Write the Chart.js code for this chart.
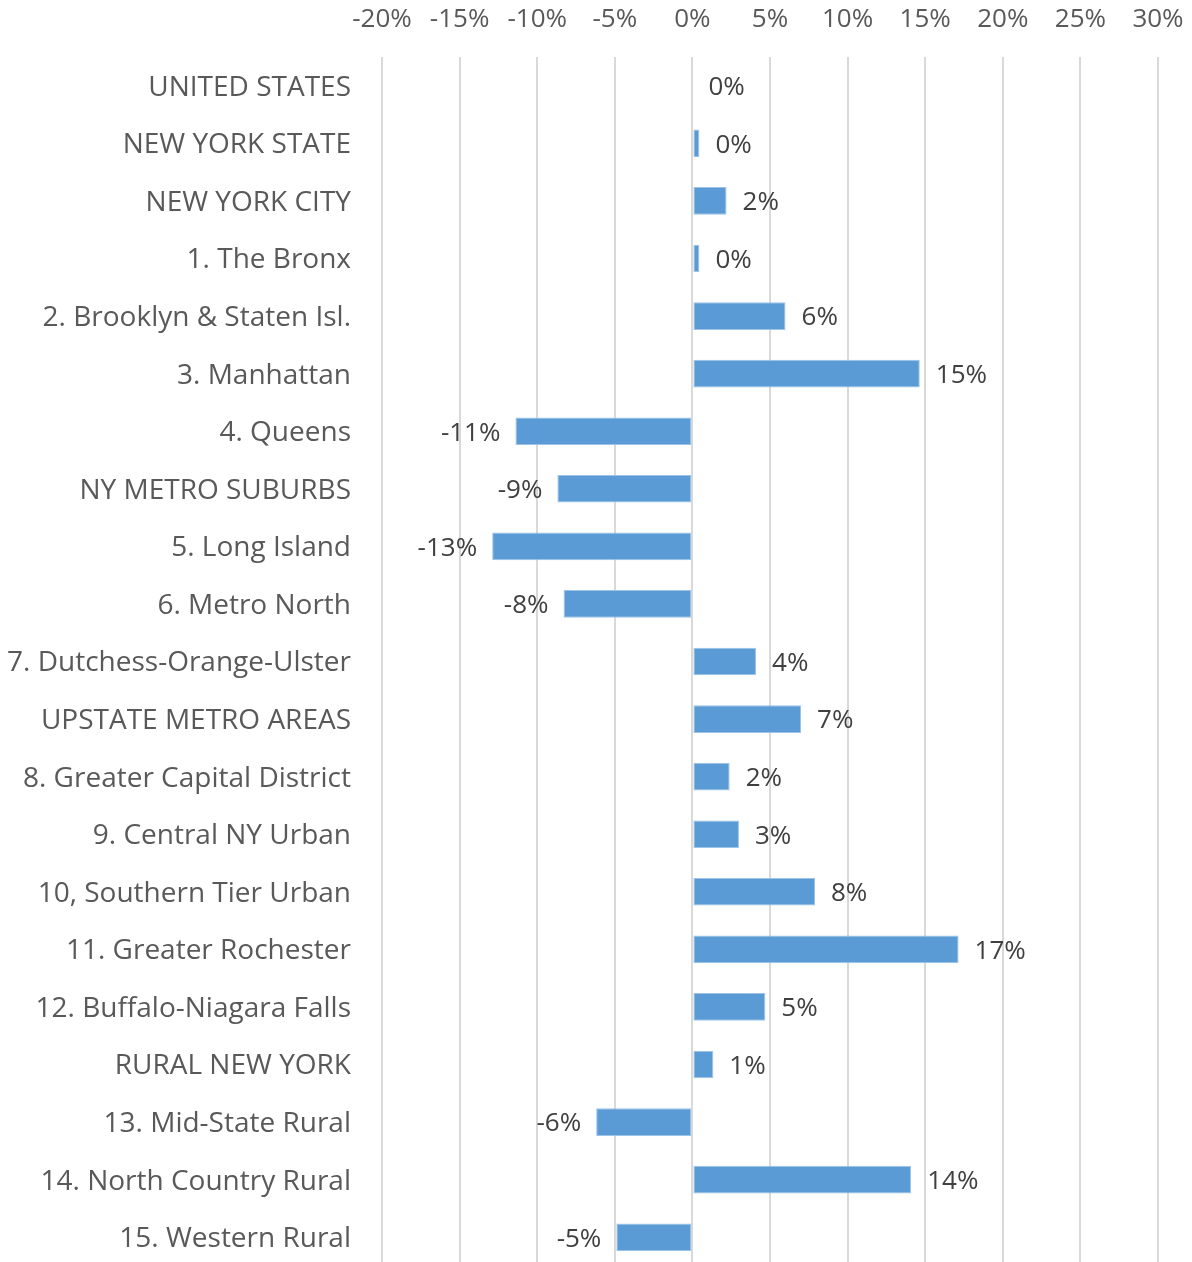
<!DOCTYPE html>
<html lang="en">
<head>
<meta charset="UTF-8">
<title>Change by region</title>
<script src="https://cdn.jsdelivr.net/npm/chart.js"></script>
<style>
  html, body { margin: 0; padding: 0; background: #fff; overflow: hidden; }
  #wrap { position: relative; width: 1192px; height: 1266px; }
</style>
</head>
<body>
<div id="wrap"><canvas id="myChart"></canvas></div>
<script>
    var regions = ['UNITED STATES', 'NEW YORK STATE', 'NEW YORK CITY', '1. The Bronx', '2. Brooklyn & Staten Isl.',
                   '3. Manhattan', '4. Queens', 'NY METRO SUBURBS', '5. Long Island', '6. Metro North',
                   '7. Dutchess-Orange-Ulster', 'UPSTATE METRO AREAS', '8. Greater Capital District', '9. Central NY Urban',
                   '10, Southern Tier Urban', '11. Greater Rochester', '12. Buffalo-Niagara Falls', 'RURAL NEW YORK',
                   '13. Mid-State Rural', '14. North Country Rural', '15. Western Rural'];
    var change = [0.0, 0.45, 2.2, 0.45, 6.0, 14.65, -11.4, -8.7, -12.9, -8.3,
                  4.1, 7.0, 2.4, 3.0, 7.9, 17.15, 4.7, 1.35, -6.2, 14.1, -4.9];
    var tick_min = -20, tick_max = 30, tick_step = 5;

    var font_family = "'Open Sans', 'Noto Sans', sans-serif";

    // value labels next to the bar ends
    var barLabels = {
        id: 'barLabels',
        afterDatasetsDraw: function(chart) {
            var ctx = chart.ctx;
            var meta = chart.getDatasetMeta(0);
            ctx.save();
            ctx.font = '26px ' + font_family;
            ctx.fillStyle = '#404040';
            ctx.textBaseline = 'middle';
            meta.data.forEach(function(bar, i) {
                var v = change[i];
                var txt = Math.round(v) + '%';
                if (v >= 0) {
                    ctx.textAlign = 'left';
                    ctx.fillText(txt, bar.x + 16, bar.y + 2);
                } else {
                    ctx.textAlign = 'right';
                    ctx.fillText(txt, bar.x - 15, bar.y + 2);
                }
            });
            ctx.restore();
        }
    };

    var chart = new Chart(document.getElementById('myChart'), {
        type: 'bar',
        data: {
            labels: regions,
            datasets: [{
                data: change,
                backgroundColor: '#5b9bd5',
                borderColor: '#9dc3e6',
                borderWidth: 1,
                borderSkipped: false,
                barPercentage: 0.48,
                categoryPercentage: 1.0
            }]
        },
        options: {
            indexAxis: 'y',
            responsive: true,
            maintainAspectRatio: false,
            animation: false,
            layout: { padding: { left: 0, right: 34, top: 0, bottom: 0 } },
            plugins: {
                legend: { display: false },
                tooltip: { enabled: false }
            },
            scales: {
                x: {
                    position: 'top',
                    min: tick_min,
                    max: tick_max,
                    border: { display: false },
                    grid: { color: '#d9d9d9', lineWidth: 2, drawTicks: false },
                    ticks: {
                        stepSize: tick_step,
                        color: '#595959',
                        padding: 22,
                        font: { size: 26, family: font_family },
                        callback: function(v) { return v + '%'; }
                    },
                    afterFit: function(scale) {
                        scale.height = 57;
                        scale.paddingLeft = 0;
                        scale.paddingRight = 0;
                    }
                },
                y: {
                    border: { display: false },
                    grid: { display: false, drawTicks: false },
                    ticks: {
                        color: '#595959',
                        padding: 31,
                        labelOffset: 2,
                        font: { size: 28, family: font_family }
                    },
                    afterFit: function(scale) {
                        scale.width = 382;
                        scale.paddingTop = 0;
                        scale.paddingBottom = 0;
                    }
                }
            }
        },
        plugins: [barLabels]
    });
</script>
</body>
</html>
